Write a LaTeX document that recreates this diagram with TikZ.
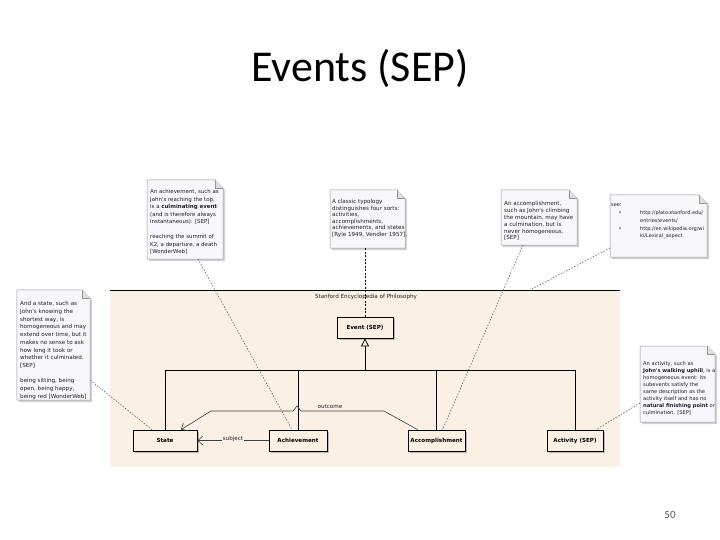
\documentclass[tikz,border=0pt]{standalone}
\usepackage{fontspec}
\setmainfont{Carlito}
\newfontfamily\notefont{DejaVu Sans}
\usetikzlibrary{arrows.meta,shadows}
\definecolor{pkgbg}{RGB}{250,241,228}
\definecolor{notebg}{RGB}{248,247,252}
\definecolor{noteedge}{RGB}{150,150,158}
\definecolor{txt}{RGB}{30,30,45}
\newcommand\notefrm[1]{%
  \fill[gray!35] ([xshift=2bp,yshift=-2bp]#1.north west) -- ([xshift=-6bp,yshift=-2bp]#1.north east) -- ([xshift=2bp,yshift=-10bp]#1.north east) -- ([xshift=2bp,yshift=-2bp]#1.south east) -- ([xshift=2bp,yshift=-2bp]#1.south west) -- cycle;
  \filldraw[fill=notebg, draw=noteedge, line width=0.5bp] (#1.north west) -- ([xshift=-8bp]#1.north east) -- ([yshift=-8bp]#1.north east) -- (#1.south east) -- (#1.south west) -- cycle;
  \filldraw[fill=gray!25, draw=noteedge, line width=0.5bp] ([xshift=-8bp]#1.north east) -- ([xshift=-8bp,yshift=-8bp]#1.north east) -- ([yshift=-8bp]#1.north east);
}
\tikzset{
  noteframe/.style={inner sep=0pt, outer sep=0pt, draw=none},
  notetext/.style={anchor=north west, inner sep=0pt, align=left, text=txt},
  cls/.style={draw=black, line width=0.7bp, fill=pkgbg, inner sep=0pt, minimum height=21bp,
    font=\notefont\bfseries\fontsize{5.6bp}{6.5bp}\selectfont,
    drop shadow={shadow xshift=2bp, shadow yshift=-2bp, fill=gray!55, opacity=1}},
  gen/.style={draw=black, line width=0.7bp},
  assoc/.style={draw=black!75, line width=0.6bp},
  lbl/.style={fill=pkgbg, inner sep=0.8bp, text=txt, font=\notefont\fontsize{5.6bp}{6.5bp}\selectfont},
  notelink/.style={draw=black!60, line width=0.6bp, dash pattern=on 1.5bp off 1.5bp},
}
\begin{document}
\begin{tikzpicture}[x=1bp, y=-1bp]
\useasboundingbox (0,0) rectangle (720,540);
\fill[white] (0,0) rectangle (720,540);

% title and page number
\node[font=\fontsize{44bp}{50bp}\selectfont, anchor=base] (title) at (360,82) {Events (SEP)};
\node[font=\fontsize{11bp}{13bp}\selectfont, text=gray!70!black] (pnum) at (670,515) {50};

% package
\fill[pkgbg] (110,290) rectangle (620,467);
\draw[line width=0.7bp] (110,290) -- (620,290);
\node[font=\notefont\fontsize{5.6bp}{6.5bp}\selectfont, text=txt] (pkglbl) at (366,297) {Stanford Encyclopedia of Philosophy};

% notes
\node[noteframe, minimum width=76bp, minimum height=79bp] (nA) at (185,219.5) {};
\notefrm{nA}
\node[notetext, font=\notefont\fontsize{5.45bp}{7.5bp}\selectfont] (tA) at (150,189.4) {An achievement, such as\\
John's reaching the top,\\
is a \textbf{culminating event}\\
(and is therefore always\\
instantaneous). [SEP]\\[7.5bp]
reaching the summit of\\
K2, a departure, a death\\
{}[WonderWeb]};

\node[noteframe, minimum width=75bp, minimum height=58bp] (nT) at (367.5,219) {};
\notefrm{nT}
\node[notetext, font=\notefont\fontsize{5.6bp}{6.5bp}\selectfont] (tT) at (332,199.4) {A classic typology\\
distinguishes four sorts:\\
activities,\\
accomplishments,\\
achievements, and states\\
{}[Ryle 1949, Vendler 1957].};

\node[noteframe, minimum width=76bp, minimum height=55bp] (nC) at (539,217.5) {};
\notefrm{nC}
\node[notetext, font=\notefont\fontsize{5.6bp}{6.8bp}\selectfont] (tC) at (504,201.4) {An accomplishment,\\
such as John's climbing\\
the mountain, may have\\
a culmination, but is\\
never homogeneous.\\
{}[SEP]};

\node[noteframe, minimum width=97bp, minimum height=62bp] (nS) at (658.5,226) {};
\notefrm{nS}
\node[notetext, font=\notefont\fontsize{5.0bp}{7.75bp}\selectfont] (tS) at (611,203.8) {see:\\
\hbox to 29bp{\hspace{7.5bp}\textbullet\hfil}http://plato.stanford.edu/\\
\hbox to 29bp{\hfil}entries/events/\\
\hbox to 29bp{\hspace{7.5bp}\textbullet\hfil}http://en.wikipedia.org/wi\\
\hbox to 29bp{\hfil}ki/Lexical\_aspect};

\node[noteframe, minimum width=73bp, minimum height=110bp] (nSt) at (53.5,345) {};
\notefrm{nSt}
\node[notetext, font=\notefont\fontsize{5.6bp}{7.7bp}\selectfont] (tSt) at (20,301.4) {And a state, such as\\
John's knowing the\\
shortest way, is\\
homogeneous and may\\
extend over time, but it\\
makes no sense to ask\\
how long it took or\\
whether it culminated.\\
{}[SEP]\\[7.7bp]
being sitting, being\\
open, being happy,\\
being red [WonderWeb]};

\node[noteframe, minimum width=75bp, minimum height=76bp] (nAc) at (677.5,384) {};
\notefrm{nAc}
\node[notetext, font=\notefont\fontsize{5.15bp}{7bp}\selectfont] (tAc) at (643,361.6) {An activity, such as\\
\textbf{John's walking uphill}, is a\\
homogeneous event: its\\
subevents satisfy the\\
same description as the\\
activity itself and has no\\
\textbf{natural finishing point} or\\
culmination. [SEP]};

% classes
\node[cls, minimum width=56bp] (event) at (365,327.5) {Event (SEP)};
\node[cls, minimum width=64bp] (state) at (165,440.5) {State};
\node[cls, minimum width=58bp] (ach) at (298,440.5) {Achievement};
\node[cls, minimum width=57bp] (acc) at (436.5,440.5) {Accomplishment};
\node[cls, minimum width=56bp] (act) at (575,440.5) {Activity (SEP)};

% note links
\coordinate (pkgtop) at (530,290);
\draw[notelink] ([xshift=13bp]nA.south) -- ([xshift=-6bp]ach.north);
\draw[notelink, draw=black, dash pattern=on 2bp off 1.5bp] (event.north |- nT.south) -- (event.north);
\draw[notelink] ([xshift=-16bp]nC.south) -- ([xshift=6bp]acc.north);
\draw[notelink] ([yshift=9bp]nS.south west) -- (pkgtop);
\draw[notelink] ([yshift=20bp]nSt.south east) -- ([xshift=-13bp]state.north);
\draw[notelink] ([yshift=19bp]nAc.south west) -- ([xshift=21bp]act.north);

% generalization tree
\coordinate (gj) at (event.south |- 0,370);
\draw[gen] (state.north) |- (gj);
\draw[gen] (act.north) |- (gj);
\draw[gen] (ach.north) -- (ach.north |- gj);
\draw[gen] (acc.north) -- (acc.north |- gj);
\draw[gen, -{Triangle[open, length=8bp, width=8bp]}] (gj) -- (event.south);

% associations
\draw[assoc, -{Straight Barb[length=5bp, width=9bp]}] (ach.west) -- (state.east)
  node[lbl, pos=0.5, yshift=2bp] (subjlbl) {subject};
\coordinate (o1) at (384,411);
\coordinate (o2) at (301,411);
\coordinate (o3) at (297,406);
\coordinate (o4) at (293,411);
\coordinate (o5) at (211,411);
\draw[assoc, -{Straight Barb[length=5bp, width=9bp]}] ([xshift=10bp]acc.north west) -- (o1) -- (o2) -- (o3) -- (o4) -- (o5) -- ([xshift=16bp]state.north);
\node[lbl] (outlbl) at (330,407) {outcome};
\end{tikzpicture}
\end{document}
